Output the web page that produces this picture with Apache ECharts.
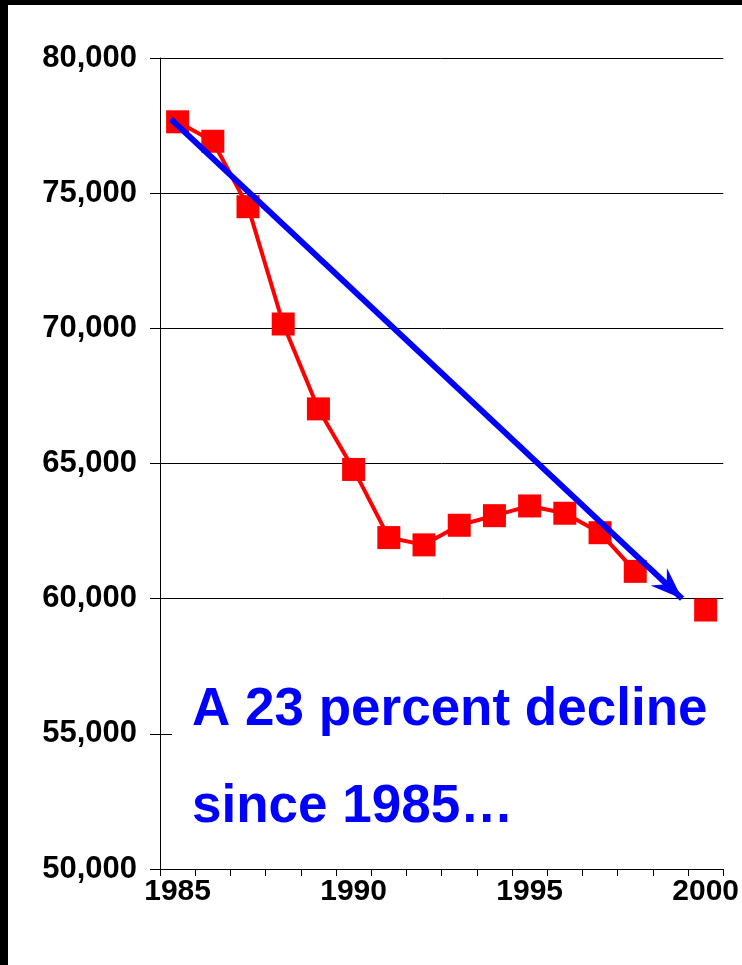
<!DOCTYPE html>
<html><head><meta charset="utf-8">
<script src="https://cdn.jsdelivr.net/npm/echarts@6/dist/echarts.min.js"></script>
<style>
html,body{margin:0;padding:0;background:#000;width:742px;height:965px;overflow:hidden}
#c{position:absolute;left:8px;top:5px;width:734px;height:960px;background:#fff}
</style></head><body><div id="c"></div>
<script>
const years = ['1985','1986','1987','1988','1989','1990','1991','1992','1993','1994','1995','1996','1997','1998','1999','2000'];
const enrollment = [77640, 76920, 74500, 70160, 67020, 64780, 62260, 61990, 62715, 63070, 63430, 63160, 62440, 61010, null, 59580];
const yMin = 50000, yMax = 80000, yStep = 5000;
const arrowFrom = [-0.19, 77740];   // [category index, value]
const arrowTo = [14.33, 60000];
const noteLines = ['A 23 percent decline', 'since 1985\u2026'];

const chart = echarts.init(document.getElementById('c'), null, {renderer: 'canvas'});
chart.setOption({
  animation: false,
  backgroundColor: '#fff',
  grid: {left: 152, right: 18, top: 53, bottom: 96, containLabel: false},
  xAxis: [{
    type: 'category', data: years, boundaryGap: true,
    axisLine: {show: true, onZero: false, lineStyle: {color: '#000', width: 1}},
    axisTick: {show: true, interval: 0, length: 7, lineStyle: {color: '#000', width: 1}},
    axisLabel: {interval: 4, color: '#000', fontWeight: 'bold', fontSize: 30,
      fontFamily: '"Liberation Sans Narrow", "Liberation Sans", Arial, sans-serif', margin: 8},
    splitLine: {show: false}
  }, {
    type: 'value', min: -0.5, max: 15.5, show: false
  }],
  yAxis: {
    type: 'value', min: yMin, max: yMax, interval: yStep,
    axisLine: {show: true, onZero: false, lineStyle: {color: '#000', width: 1}},
    axisTick: {show: true, length: 10, lineStyle: {color: '#000', width: 1}},
    splitLine: {show: true, lineStyle: {color: '#000', width: 1}},
    axisLabel: {color: '#000', fontWeight: 'bold', fontSize: 31,
      fontFamily: '"Liberation Sans", Arial, sans-serif', margin: 23,
      formatter: v => v.toLocaleString('en-US')}
  },
  series: [{
    type: 'line', xAxisIndex: 0, data: enrollment, connectNulls: false,
    symbol: 'rect', symbolSize: 23,
    itemStyle: {color: '#ff0000'},
    lineStyle: {color: '#ff0000', width: 4},
    z: 3
  }, {
    type: 'line', xAxisIndex: 1, data: [], z: 5,
    markLine: {
      silent: true, animation: false,
      symbol: ['none', 'path://M0,0 L12,32 L0,21 L-12,32 Z'],
      symbolSize: [24, 32], symbolOffset: [0, [0, 16]],
      lineStyle: {color: '#0000ff', width: 6, type: 'solid'},
      itemStyle: {color: '#0000ff'},
      label: {show: false},
      data: [[{coord: arrowFrom}, {coord: arrowTo}]]
    }
  }],
  graphic: [{
    type: 'rect', left: 164, top: 667, z: 50,
    shape: {width: 570, height: 178}, style: {fill: '#fff'}
  }, {
    type: 'text', left: 184, top: 657, z: 51,
    style: {text: noteLines.join('\n'), fill: '#0000ff',
      font: 'bold 53px "Liberation Sans", Arial, sans-serif', lineHeight: 97}
  }]
});
</script></body></html>
